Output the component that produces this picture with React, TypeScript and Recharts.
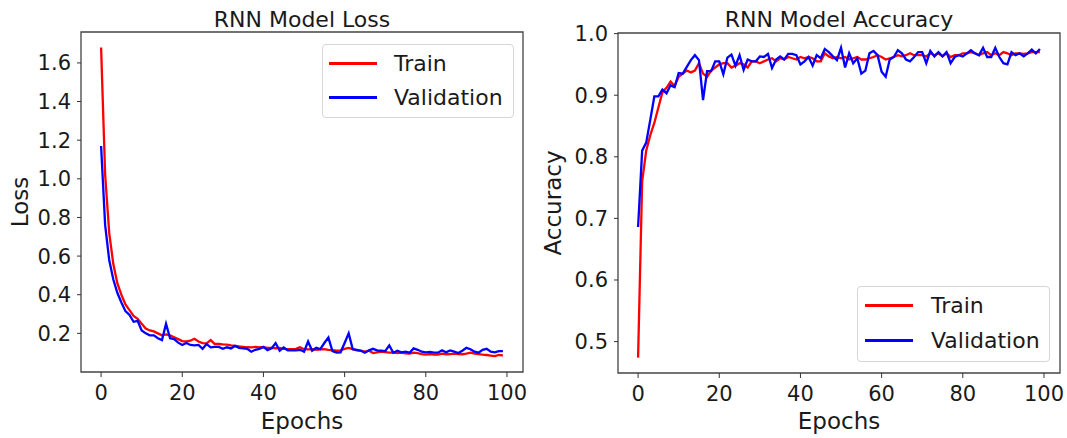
import React from "react";
import { LineChart, Line, XAxis, YAxis, ReferenceArea, Legend } from "recharts";

const epochs: number[] = Array.from({ length: 100 }, (_, i) => i);

const trainLoss: number[] = [
  1.68, 1.02, 0.72, 0.56, 0.46, 0.40, 0.35, 0.32, 0.29, 0.275,
  0.25, 0.225, 0.215, 0.21, 0.20, 0.19, 0.195, 0.19, 0.18, 0.17,
  0.16, 0.158, 0.162, 0.172, 0.158, 0.15, 0.148, 0.165, 0.145, 0.145,
  0.143, 0.142, 0.138, 0.135, 0.132, 0.13, 0.128, 0.127, 0.13, 0.128,
  0.128, 0.125, 0.125, 0.123, 0.125, 0.12, 0.118, 0.118, 0.12, 0.128,
  0.118, 0.117, 0.118, 0.115, 0.117, 0.118, 0.115, 0.113, 0.11, 0.112,
  0.12, 0.125, 0.118, 0.112, 0.11, 0.105, 0.11, 0.098, 0.102, 0.105,
  0.103, 0.1, 0.1, 0.098, 0.1, 0.097, 0.095, 0.1, 0.098, 0.093,
  0.09, 0.093, 0.09, 0.09, 0.095, 0.092, 0.093, 0.095, 0.093, 0.092,
  0.095, 0.1, 0.095, 0.093, 0.09, 0.088, 0.085, 0.082, 0.088, 0.086,
];

const valLoss: number[] = [
  1.17, 0.76, 0.58, 0.48, 0.41, 0.36, 0.315, 0.295, 0.26, 0.265,
  0.215, 0.2, 0.19, 0.19, 0.175, 0.165, 0.25, 0.175, 0.17, 0.152,
  0.14, 0.15, 0.14, 0.138, 0.14, 0.12, 0.145, 0.128, 0.13, 0.13,
  0.12, 0.128, 0.122, 0.135, 0.125, 0.123, 0.12, 0.105, 0.115, 0.12,
  0.13, 0.113, 0.122, 0.15, 0.11, 0.127, 0.112, 0.112, 0.112, 0.115,
  0.105, 0.158, 0.11, 0.125, 0.118, 0.15, 0.178, 0.108, 0.1, 0.102,
  0.15, 0.2, 0.118, 0.115, 0.11, 0.1, 0.112, 0.12, 0.112, 0.11,
  0.108, 0.138, 0.1, 0.11, 0.102, 0.105, 0.1, 0.122, 0.115, 0.105,
  0.102, 0.104, 0.1, 0.1, 0.112, 0.102, 0.112, 0.105, 0.098, 0.11,
  0.125, 0.118, 0.105, 0.1, 0.115, 0.12, 0.105, 0.102, 0.108, 0.108,
];

const trainAcc: number[] = [
  0.474, 0.76, 0.81, 0.835, 0.855, 0.88, 0.905, 0.912, 0.922, 0.915,
  0.93, 0.935, 0.94, 0.937, 0.94, 0.952, 0.935, 0.93, 0.94, 0.945,
  0.95, 0.952, 0.952, 0.945, 0.948, 0.952, 0.95, 0.945, 0.955, 0.955,
  0.952, 0.955, 0.958, 0.96, 0.955, 0.96, 0.958, 0.962, 0.96, 0.958,
  0.962, 0.96, 0.962, 0.96, 0.955, 0.955, 0.968, 0.963, 0.96, 0.962,
  0.96, 0.962, 0.958, 0.96, 0.962, 0.958, 0.958, 0.96, 0.962, 0.965,
  0.962, 0.958, 0.96, 0.962, 0.965, 0.963, 0.965, 0.968, 0.965, 0.965,
  0.965, 0.963, 0.968, 0.965, 0.968, 0.963, 0.968, 0.962, 0.965, 0.965,
  0.968, 0.968, 0.97, 0.968, 0.965, 0.968, 0.97, 0.965, 0.968, 0.965,
  0.97, 0.968, 0.965, 0.968, 0.968, 0.967, 0.968, 0.97, 0.97, 0.97,
];

const valAcc: number[] = [
  0.686, 0.81, 0.823, 0.86, 0.898, 0.898, 0.909, 0.903, 0.916, 0.913,
  0.936, 0.935, 0.946, 0.957, 0.965, 0.957, 0.892, 0.939, 0.939, 0.955,
  0.955, 0.934, 0.961, 0.966, 0.948, 0.965, 0.941, 0.958, 0.955, 0.955,
  0.963, 0.962, 0.967, 0.944, 0.958, 0.963, 0.958, 0.967, 0.967, 0.965,
  0.95, 0.955, 0.962, 0.948, 0.965, 0.96, 0.975, 0.97, 0.963, 0.957,
  0.977, 0.945, 0.968, 0.952, 0.96, 0.935, 0.94, 0.968, 0.972, 0.965,
  0.938, 0.93, 0.958, 0.962, 0.973, 0.968, 0.958, 0.955, 0.962, 0.97,
  0.97, 0.952, 0.972, 0.963, 0.97, 0.963, 0.97, 0.952, 0.962, 0.965,
  0.963, 0.968, 0.973, 0.968, 0.965, 0.977, 0.962, 0.962, 0.977, 0.962,
  0.952, 0.95, 0.97, 0.965, 0.968, 0.963, 0.968, 0.974, 0.968, 0.975,
];

const xTicks: number[] = [0, 20, 40, 60, 80, 100];
const lossTicks: number[] = [0.2, 0.4, 0.6, 0.8, 1.0, 1.2, 1.4, 1.6];
const accTicks: number[] = [0.5, 0.6, 0.7, 0.8, 0.9, 1.0];
const seriesNames = ["Train", "Validation"];
const seriesColors = ["#ff0000", "#0000ff"];

const lossData = epochs.map((e, i) => ({ epoch: e, train: trainLoss[i], val: valLoss[i] }));
const accData = epochs.map((e, i) => ({ epoch: e, train: trainAcc[i], val: valAcc[i] }));

const FONT = "'DejaVu Sans', sans-serif";
const TXT = "#1a1a1a";
const X_DOMAIN: [number, number] = [-4.95, 103.95];

const LegendBox = ({ width, height, lineLeft, textLeft, rows }: any) => (
  <div
    style={{
      position: "relative",
      width,
      height,
      boxSizing: "border-box",
      border: "1px solid #d6d6d6",
      borderRadius: 4,
      background: "rgba(255,255,255,0.85)",
      fontFamily: FONT,
    }}
  >
    {seriesNames.map((n, i) => (
      <div key={n} style={{ position: "absolute", left: 0, top: rows[i] - 17, height: 34, width: "100%" }}>
        <div style={{ position: "absolute", left: lineLeft, top: 16, width: 48, height: 3, background: seriesColors[i] }} />
        <span style={{ position: "absolute", left: textLeft, fontSize: 22, color: TXT, lineHeight: "22px", top: 7, whiteSpace: "nowrap" }}>{n}</span>
      </div>
    ))}
  </div>
);

const tickStyle = { fontSize: 21, fill: TXT, fontFamily: FONT };

export default function App() {
  return (
    <div style={{ position: "absolute", left: 0, top: 0, width: 1067, height: 438, background: "#fff", fontFamily: FONT }}>
      <div style={{ position: "absolute", left: 0, top: 0 }}>
        <LineChart width={540} height={438} data={lossData} margin={{ top: 32, right: 17, bottom: 0, left: 0 }}>
          <XAxis
            dataKey="epoch"
            type="number"
            domain={X_DOMAIN}
            ticks={xTicks}
            allowDataOverflow
            height={66}
            axisLine={false}
            tickLine={{ stroke: "#333" }}
            tickSize={5}
            tickMargin={8}
            tick={tickStyle}
          />
          <YAxis
            type="number"
            domain={[0, 1.76]}
            ticks={lossTicks}
            allowDataOverflow
            width={81}
            axisLine={false}
            tickLine={{ stroke: "#333" }}
            tickSize={4}
            tickMargin={6}
            tick={tickStyle}
            tickFormatter={(v: number) => v.toFixed(1)}
          />
          <ReferenceArea x1={X_DOMAIN[0]} x2={X_DOMAIN[1]} y1={0} y2={1.76} fill="none" stroke="#444" strokeWidth={1.3} ifOverflow="visible" />
          <Line type="linear" dataKey="train" name="Train" stroke={seriesColors[0]} strokeWidth={2.3} dot={false} isAnimationActive={false} />
          <Line type="linear" dataKey="val" name="Validation" stroke={seriesColors[1]} strokeWidth={2.3} dot={false} isAnimationActive={false} />
          <Legend
            layout="horizontal"
            verticalAlign="middle"
            align="center"
            wrapperStyle={{ left: 322, top: 44, width: 192, height: 74 }}
            content={() => <LegendBox width={192} height={74} lineLeft={6} textLeft={71} rows={[18, 52]} />}
          />
          <text x={302} y={26.5} textAnchor="middle" fontSize={22} fill={TXT} fontFamily={FONT}>RNN Model Loss</text>
          <text x={302} y={429} textAnchor="middle" fontSize={23} fill={TXT} fontFamily={FONT}>Epochs</text>
          <text x={28} y={202} textAnchor="middle" fontSize={23} fill={TXT} fontFamily={FONT} transform="rotate(-90, 28, 202)">Loss</text>
        </LineChart>
      </div>
      <div style={{ position: "absolute", left: 540, top: 0 }}>
        <LineChart width={527} height={438} data={accData} margin={{ top: 33, right: 7, bottom: 0, left: 0 }}>
          <XAxis
            dataKey="epoch"
            type="number"
            domain={X_DOMAIN}
            ticks={xTicks}
            allowDataOverflow
            height={65}
            axisLine={false}
            tickLine={{ stroke: "#333" }}
            tickSize={5}
            tickMargin={8}
            tick={tickStyle}
          />
          <YAxis
            type="number"
            domain={[0.449, 1.001]}
            ticks={accTicks}
            allowDataOverflow
            width={78}
            axisLine={false}
            tickLine={{ stroke: "#333" }}
            tickSize={4}
            tickMargin={6}
            tick={tickStyle}
            tickFormatter={(v: number) => v.toFixed(1)}
          />
          <ReferenceArea x1={X_DOMAIN[0]} x2={X_DOMAIN[1]} y1={0.449} y2={1.001} fill="none" stroke="#444" strokeWidth={1.3} ifOverflow="visible" />
          <Line type="linear" dataKey="train" name="Train" stroke={seriesColors[0]} strokeWidth={2.3} dot={false} isAnimationActive={false} />
          <Line type="linear" dataKey="val" name="Validation" stroke={seriesColors[1]} strokeWidth={2.3} dot={false} isAnimationActive={false} />
          <Legend
            layout="horizontal"
            verticalAlign="middle"
            align="center"
            wrapperStyle={{ left: 317, top: 286, width: 193, height: 76 }}
            content={() => <LegendBox width={193} height={76} lineLeft={7} textLeft={73} rows={[18, 53]} />}
          />
          <text x={299} y={26.5} textAnchor="middle" fontSize={22} fill={TXT} fontFamily={FONT}>RNN Model Accuracy</text>
          <text x={299} y={429} textAnchor="middle" fontSize={23} fill={TXT} fontFamily={FONT}>Epochs</text>
          <text x={21} y={203} textAnchor="middle" fontSize={23} fill={TXT} fontFamily={FONT} transform="rotate(-90, 21, 203)">Accuracy</text>
        </LineChart>
      </div>
    </div>
  );
}
